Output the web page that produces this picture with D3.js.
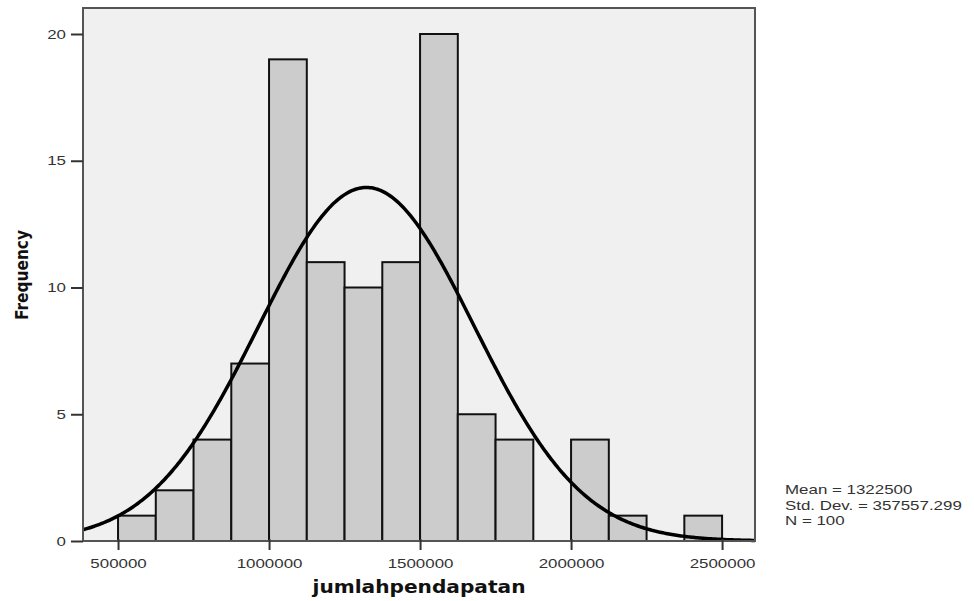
<!DOCTYPE html>
<html>
<head>
<meta charset="utf-8">
<script src="https://cdn.jsdelivr.net/npm/d3@7"></script>
<style>
  body { margin: 0; background: #fff; }
  text { font-family: "Liberation Sans", Arial, sans-serif; }
</style>
</head>
<body>
<svg id="chart" width="974" height="601"></svg>
<script>
// histogram bins (lower edge of each 125000-wide bin) and their counts
var binStart = [500000, 625000, 750000, 875000, 1000000, 1125000, 1250000, 1375000,
                1500000, 1625000, 1750000, 1875000, 2000000, 2125000, 2250000, 2375000];
var counts   = [1, 2, 4, 7, 19, 11, 10, 11, 20, 5, 4, 0, 4, 1, 0, 1];
var binWidth = 125000;

var xTicks = [500000, 1000000, 1500000, 2000000, 2500000];
var yTicks = [0, 5, 10, 15, 20];

// summary stats printed next to the plot
var stats = {mean: 1322500, sd: 357557.299, n: 100};
var legendLines = ["Mean = 1322500", "Std. Dev. = 357557.299", "N = 100"];

var svg = d3.select("#chart");

// plot box (don't call it "top", that one belongs to window)
var pl = 83, pr = 755, pt = 8, pb = 541;
var stretch = 1.3;   // the picture's text is drawn wider than normal

var x = d3.scaleLinear().domain([384000, 2609000]).range([pl, pr]);
var y = d3.scaleLinear().domain([0, 20]).range([pb, 34]);

// widen a text horizontally by the stretch factor
function widen(sel) {
  sel.each(function() {
    var w = this.getComputedTextLength();
    d3.select(this)
        .attr("textLength", w * stretch)
        .attr("lengthAdjust", "spacingAndGlyphs");
  });
}

// plot background
svg.append("rect")
    .attr("x", pl).attr("y", pt)
    .attr("width", pr - pl).attr("height", pb - pt)
    .attr("fill", "#f0f0f0");

// bars
var bars = binStart.map(function(b, i) { return {x0: b, x1: b + binWidth, n: counts[i]}; })
    .filter(function(d) { return d.n > 0; });

svg.append("g").selectAll("rect")
    .data(bars)
  .enter().append("rect")
    .attr("x", function(d) { return x(d.x0); })
    .attr("y", function(d) { return y(d.n); })
    .attr("width", function(d) { return x(d.x1) - x(d.x0); })
    .attr("height", function(d) { return y(0) - y(d.n); })
    .attr("fill", "#cccccc")
    .attr("stroke", "#111")
    .attr("stroke-width", 2);

// normal curve from the stated mean / sd, scaled to counts
var scaleK = stats.n * binWidth / (stats.sd * Math.sqrt(2 * Math.PI));
var pts = d3.range(x.domain()[0], x.domain()[1] + 1, 5000).map(function(v) {
  var z = (v - stats.mean) / stats.sd;
  return [v, scaleK * Math.exp(-0.5 * z * z)];
});

svg.append("path")
    .datum(pts)
    .attr("fill", "none")
    .attr("stroke", "#000")
    .attr("stroke-width", 3.5)
    .attr("d", d3.line().x(function(d) { return x(d[0]); }).y(function(d) { return y(d[1]); }));

// frame
svg.append("rect")
    .attr("x", pl).attr("y", pt)
    .attr("width", pr - pl).attr("height", pb - pt)
    .attr("fill", "none")
    .attr("stroke", "#555")
    .attr("stroke-width", 2);

// axes
var xAxis = svg.append("g")
    .attr("transform", "translate(0," + pb + ")")
    .call(d3.axisBottom(x).tickValues(xTicks).tickFormat(d3.format("d")).tickSize(9).tickPadding(6));
var yAxis = svg.append("g")
    .attr("transform", "translate(" + pl + ",0)")
    .call(d3.axisLeft(y).tickValues(yTicks).tickSize(12).tickPadding(5));

[xAxis, yAxis].forEach(function(a) {
  a.select(".domain").remove();
  a.selectAll("line").attr("stroke", "#333").attr("stroke-width", 2);
  a.selectAll("text")
      .attr("fill", "#333")
      .style("font-family", "'Liberation Sans', Arial, sans-serif")
      .style("font-size", "13px")
      .call(widen);
});
// ticks on x also run up to the axis line
xAxis.selectAll("line").attr("y1", -2);
xAxis.selectAll("text").attr("dy", "0.95em");

// axis titles
svg.append("text")
    .attr("x", 419).attr("y", 593)
    .attr("text-anchor", "middle")
    .style("font-family", "'DejaVu Sans', sans-serif")
    .style("font-weight", "bold")
    .style("font-size", "17px")
    .attr("textLength", 213)
    .attr("lengthAdjust", "spacingAndGlyphs")
    .attr("fill", "#111")
    .text("jumlahpendapatan");

svg.append("text")
    .attr("transform", "translate(28,275) rotate(-90)")
    .attr("text-anchor", "middle")
    .style("font-family", "'DejaVu Sans', sans-serif")
    .style("font-weight", "bold")
    .style("font-size", "17px")
    .attr("textLength", 90)
    .attr("lengthAdjust", "spacingAndGlyphs")
    .attr("fill", "#111")
    .text("Frequency");

// legend text
svg.append("g").selectAll("text")
    .data(legendLines)
  .enter().append("text")
    .attr("x", 785)
    .attr("y", function(d, i) { return 494 + i * 15.5; })
    .style("font-size", "13px")
    .attr("fill", "#333")
    .text(function(d) { return d; })
    .call(widen);
</script>
</body>
</html>
